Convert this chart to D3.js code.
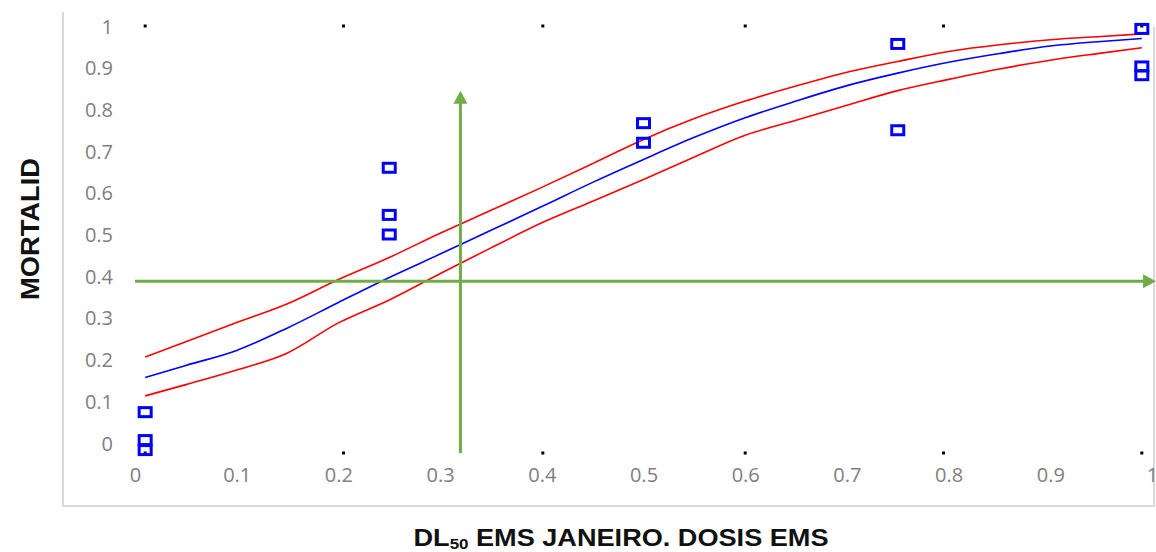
<!DOCTYPE html>
<html>
<head>
<meta charset="utf-8">
<script src="https://cdn.jsdelivr.net/npm/d3@7/dist/d3.min.js"></script>
<style>
  body { margin: 0; background: #fff; }
  svg { display: block; }
</style>
</head>
<body>
<div id="chart"></div>
<script>
// tick values
var xTicks = [0, 0.1, 0.2, 0.3, 0.4, 0.5, 0.6, 0.7, 0.8, 0.9, 1];
var yTicks = [0, 0.1, 0.2, 0.3, 0.4, 0.5, 0.6, 0.7, 0.8, 0.9, 1];

// dose samples for fitted curves
var doseX   = [0.01, 0.05, 0.1, 0.15, 0.2, 0.25, 0.3, 0.35, 0.4, 0.45, 0.5, 0.55, 0.6, 0.65, 0.7, 0.75, 0.8, 0.85, 0.9, 0.95, 0.99];
var fitMid  = [0.157, 0.186, 0.222, 0.276, 0.337, 0.397, 0.453, 0.51, 0.567, 0.625, 0.68, 0.733, 0.78, 0.82, 0.857, 0.887, 0.913, 0.934, 0.952, 0.963, 0.97];
var fitHigh = [0.206, 0.243, 0.289, 0.334, 0.392, 0.445, 0.503, 0.558, 0.613, 0.67, 0.728, 0.778, 0.82, 0.856, 0.889, 0.915, 0.939, 0.955, 0.967, 0.975, 0.981];
var fitLow  = [0.113, 0.14, 0.175, 0.216, 0.288, 0.343, 0.406, 0.468, 0.528, 0.58, 0.632, 0.686, 0.738, 0.774, 0.81, 0.845, 0.872, 0.897, 0.918, 0.935, 0.948];

// observed mortality
var obsX = [0.01, 0.01, 0.01, 0.25, 0.25, 0.25, 0.5, 0.5, 0.75, 0.75, 0.99, 0.99, 0.99];
var obsY = [0.074, 0.007, -0.017, 0.66, 0.547, 0.5, 0.767, 0.72, 0.957, 0.75, 0.993, 0.903, 0.882];

// small black marker dots (top and bottom rows)
var dotX = [0.01, 0.205, 0.401, 0.6, 0.795, 0.99];
var dotY = [1, -0.024];

// DL50 guide arrows
var guideH = [0.388, 0, 1.004];     // y, x from, x to
var guideV = [0.32, -0.024, 0.845]; // x, y from, y to

var W = 1156, H = 552;

var svg = d3.select("#chart").append("svg")
    .attr("width", W)
    .attr("height", H);

var x = d3.scaleLinear().domain([0, 1]).range([135, 1152]);
var y = d3.scaleLinear().domain([0, 1]).range([443, 26]);

// chart frame
svg.append("path")
    .attr("d", "M63,12 L63,506 L1154,506 L1154,27")
    .attr("fill", "none")
    .attr("stroke", "#d9d9d9")
    .attr("stroke-width", 2);

// axes (labels only)
var xAxis = svg.append("g")
    .attr("transform", "translate(0,475)")
    .call(d3.axisBottom(x).tickValues(xTicks).tickFormat(d3.format("")).tickSize(0));
var yAxis = svg.append("g")
    .attr("transform", "translate(113,0)")
    .call(d3.axisLeft(y).tickValues(yTicks).tickFormat(d3.format("")).tickSize(0).tickPadding(0));

[xAxis, yAxis].forEach(function(g) {
    g.select(".domain").remove();
    g.selectAll("text")
        .attr("fill", "#808080")
        .style("font-family", "'Open Sans', sans-serif")
        .style("font-size", "20px");
});
xAxis.selectAll("text").attr("y", 0).attr("dy", "0.35em");
yAxis.selectAll("text").attr("x", 0).attr("dy", "0.35em");

// black dots
var dots = [];
dotY.forEach(function(dy) { dotX.forEach(function(dx) { dots.push([dx, dy]); }); });
svg.append("g").selectAll("rect")
    .data(dots)
    .enter()
    .append("rect")
    .attr("x", function(d) { return x(d[0]) - 1.5; })
    .attr("y", function(d) { return y(d[1]) - 1.5; })
    .attr("width", 3)
    .attr("height", 3)
    .attr("fill", "#000");

// fitted curves
var line = d3.line()
    .x(function(d) { return x(d[0]); })
    .y(function(d) { return y(d[1]); })
    .curve(d3.curveMonotoneX);

function series(vals) { return doseX.map(function(d, i) { return [d, vals[i]]; }); }

svg.append("path").datum(series(fitHigh)).attr("d", line)
    .attr("fill", "none").attr("stroke", "#ff0000").attr("stroke-width", 1.6);
svg.append("path").datum(series(fitLow)).attr("d", line)
    .attr("fill", "none").attr("stroke", "#ff0000").attr("stroke-width", 1.6);
svg.append("path").datum(series(fitMid)).attr("d", line)
    .attr("fill", "none").attr("stroke", "#0000ff").attr("stroke-width", 1.6);

// observed points
svg.append("g").selectAll("rect")
    .data(obsX.map(function(d, i) { return [d, obsY[i]]; }))
    .enter()
    .append("rect")
    .attr("x", function(d) { return x(d[0]) - 6; })
    .attr("y", function(d) { return y(d[1]) - 4.5; })
    .attr("width", 12)
    .attr("height", 9)
    .attr("fill", "none")
    .attr("stroke", "#0000ff")
    .attr("stroke-width", 3);

// green guide arrows
var green = "#70ad47";
var gy = y(guideH[0]), gx0 = x(guideH[1]), gx1 = x(guideH[2]);
svg.append("line")
    .attr("x1", gx0).attr("y1", gy).attr("x2", gx1 - 10).attr("y2", gy)
    .attr("stroke", green).attr("stroke-width", 3);
svg.append("path")
    .attr("d", "M" + gx1 + "," + gy + " L" + (gx1 - 13) + "," + (gy - 7) + " L" + (gx1 - 13) + "," + (gy + 7) + "Z")
    .attr("fill", green);

var vx = x(guideV[0]), vy0 = y(guideV[1]), vy1 = y(guideV[2]);
svg.append("line")
    .attr("x1", vx).attr("y1", vy0).attr("x2", vx).attr("y2", vy1 + 10)
    .attr("stroke", green).attr("stroke-width", 3);
svg.append("path")
    .attr("d", "M" + vx + "," + vy1 + " L" + (vx - 7) + "," + (vy1 + 13) + " L" + (vx + 7) + "," + (vy1 + 13) + "Z")
    .attr("fill", green);

// axis titles
svg.append("text")
    .attr("transform", "translate(39,229) rotate(-90)")
    .attr("text-anchor", "middle")
    .attr("textLength", 142)
    .attr("lengthAdjust", "spacingAndGlyphs")
    .style("font-family", "'Liberation Sans', Arial, sans-serif")
    .style("font-weight", "bold")
    .style("font-size", "25px")
    .attr("fill", "#111")
    .text("MORTALID");

var xt = svg.append("text")
    .attr("x", 621)
    .attr("y", 546)
    .attr("text-anchor", "middle")
    .attr("textLength", 415)
    .attr("lengthAdjust", "spacingAndGlyphs")
    .style("font-family", "'Liberation Sans', Arial, sans-serif")
    .style("font-weight", "bold")
    .style("font-size", "24px")
    .attr("fill", "#111");
xt.append("tspan").text("DL");
xt.append("tspan").attr("dy", 3).style("font-size", "15px").text("50");
xt.append("tspan").attr("dy", -3).text(" EMS JANEIRO. DOSIS EMS");
</script>
</body>
</html>
